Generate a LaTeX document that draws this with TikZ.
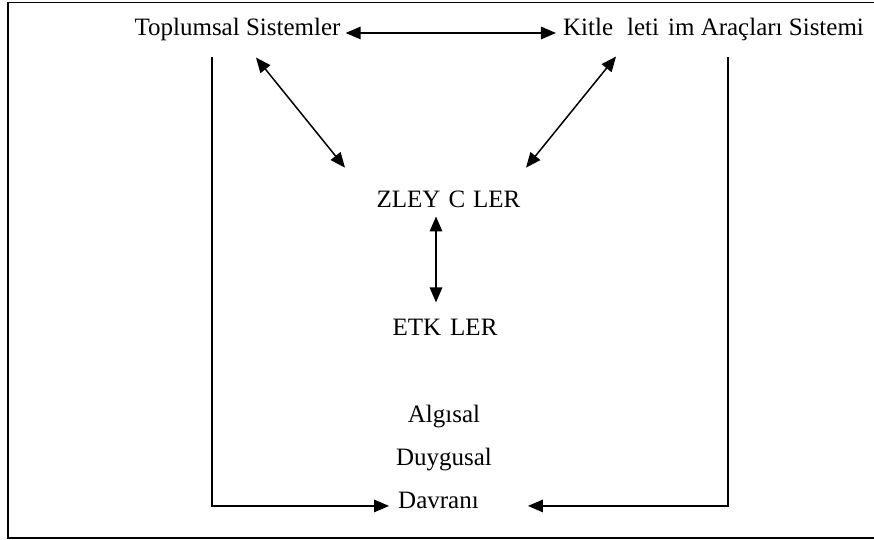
\documentclass[tikz,border=0pt]{standalone}
\usepackage{fontspec}
\setmainfont{Liberation Serif}
\usetikzlibrary{arrows.meta}
\begin{document}
\begin{tikzpicture}[x=1pt,y=-1pt,
  lbl/.style={inner sep=0pt,anchor=base,font=\fontsize{25}{30}\selectfont},
  arr/.style={line width=1.5pt,-{Triangle[length=15pt,width=12.5pt]}},
  darr/.style={line width=1.5pt,{Triangle[length=15pt,width=12.5pt]}-{Triangle[length=15pt,width=12.5pt]}}]
\useasboundingbox (0,0) rectangle (874,539);
\draw[line width=1.6pt] (8,2.5) rectangle (890,538);
% texts
\node[lbl] (ts) at (237.5,35) {Toplumsal Sistemler};
\node[lbl] (kit) at (713.5,35) {Kitle\hspace{14pt}leti\hspace{9pt}im Araçları Sistemi};
\node[lbl] (izl) at (448.5,207) {ZLEY\hspace{8pt}C\hspace{8pt}LER};
\node[lbl] (etk) at (445,335) {ETK\hspace{9pt}LER};
\node[lbl] (alg) at (444,422) {Algısal};
\node[lbl] (duy) at (444,465) {Duygusal};
\node[lbl] (dav) at (438.5,508) {Davranı};
\coordinate (lt) at (212,57);
\coordinate (rt) at (728,57);
% connectors
\draw[darr] ([xshift=5pt,yshift=-4pt]ts.east) -- ([xshift=-7pt,yshift=-4pt]kit.west);
\draw[darr] ([xshift=18.5pt,yshift=-17pt]ts.south) -- ([xshift=-103.5pt,yshift=22.6pt]izl.north);
\draw[darr] ([xshift=-97.5pt,yshift=-16pt]kit.south) -- ([xshift=77.5pt,yshift=22.6pt]izl.north);
\draw[darr] ([xshift=-12.5pt,yshift=-9pt]izl.south) -- ([xshift=-9pt,yshift=16pt]etk.north);
\draw[arr] (lt) |- ([xshift=-9pt,yshift=-6pt]dav.west);
\draw[arr] (rt) |- ([xshift=49pt,yshift=-6pt]dav.east);
\end{tikzpicture}
\end{document}
